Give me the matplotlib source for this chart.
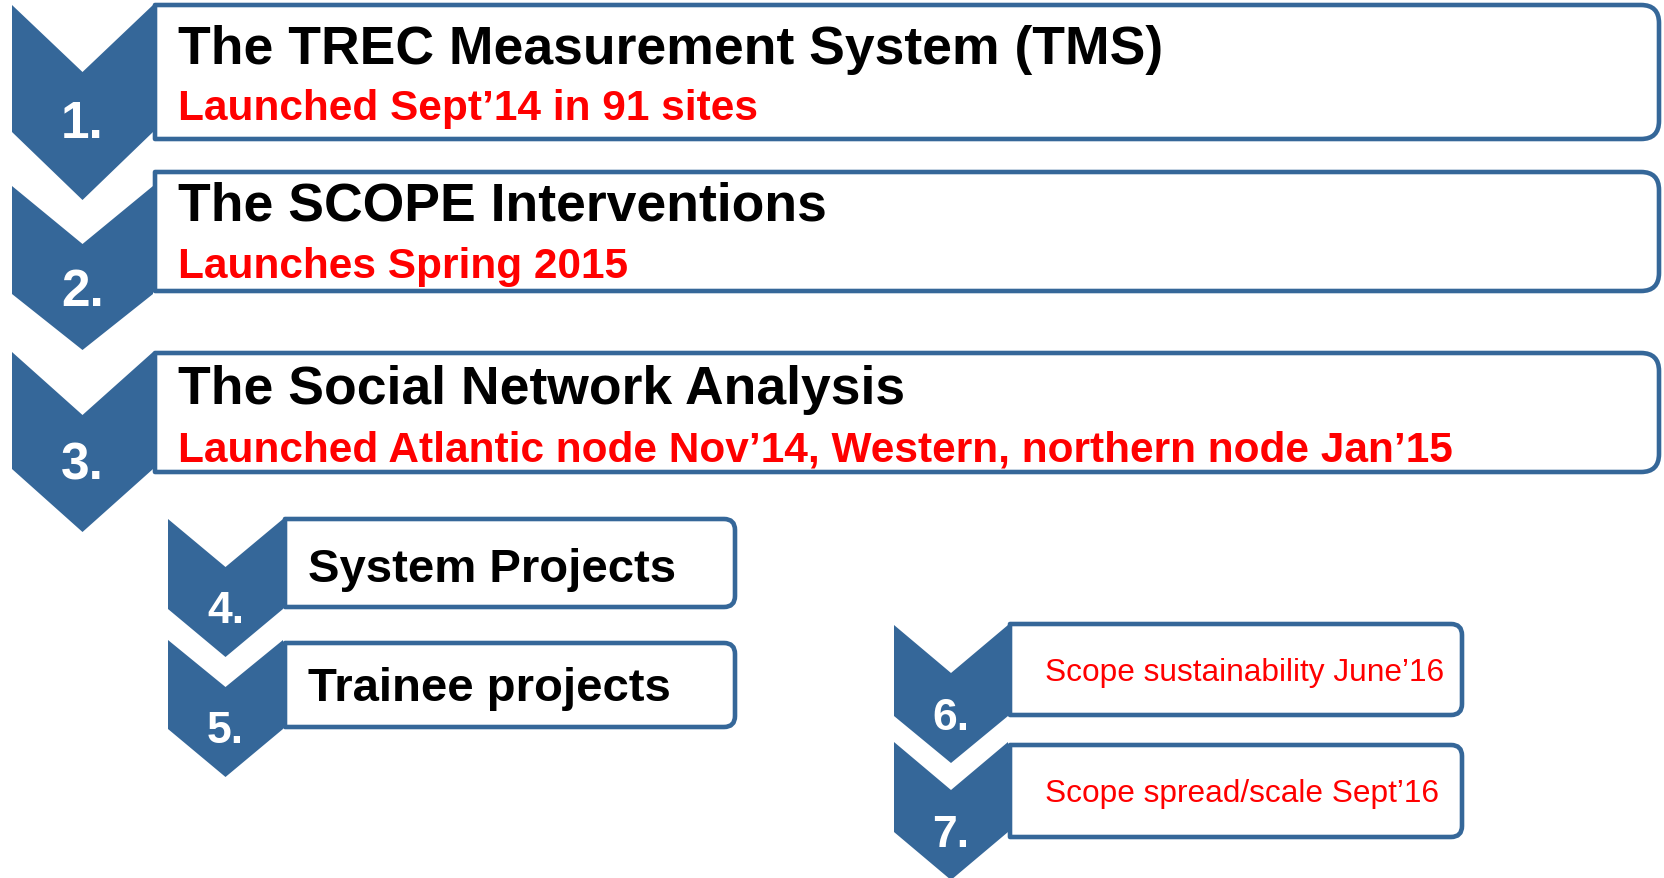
import matplotlib
matplotlib.use("Agg")
import matplotlib.pyplot as plt
from matplotlib.path import Path
from matplotlib.patches import PathPatch, Polygon

# ---- content ----
step_labels = ["1.", "2.", "3.", "4.", "5.", "6.", "7."]
headings = ["The TREC Measurement System (TMS)",
            "The SCOPE Interventions",
            "The Social Network Analysis",
            "System Projects",
            "Trainee projects",
            "", ""]
status_notes = ["Launched Sept\u201914 in 91 sites",
                "Launches Spring 2015",
                "Launched Atlantic node Nov\u201914, Western, northern node Jan\u201915",
                "", "",
                "Scope sustainability June\u201916",
                "Scope spread/scale Sept\u201916"]

# ---- layout (pixels, y downwards) ----
# chevron: x_left, x_right, y_top, y_notch, y_bottom, y_tip
chevrons = [(12, 153, 6, 73, 133, 201),
            (12, 153, 187, 245, 295, 351),
            (12, 153, 353, 416, 470, 533),
            (168, 283, 520, 568, 610, 658),
            (168, 283, 641, 688, 730, 778),
            (894, 1008, 626, 674, 717, 764),
            (894, 1008, 743, 791, 833, 881)]
# box: x0, x1, y0, y1, radius
boxes = [(155, 1659, 6, 140, 18),
         (155, 1659, 173, 292, 18),
         (155, 1659, 354, 473, 18),
         (285, 735, 520, 608, 11),
         (285, 735, 644, 728, 11),
         (1010, 1462, 625, 716, 11),
         (1010, 1462, 746, 838, 11)]
num_baseline = [138, 306, 480, 623, 743, 730, 847]
num_size = [37, 37, 37, 32, 32, 32, 32]
head_pos = [(178, 64), (178, 221), (178, 404), (308, 582), (308, 701), None, None]
note_pos = [(178, 120), (178, 278), (178, 462), None, None, (1045, 681), (1045, 802)]
head_size = [38.5, 38.5, 38.5, 34, 34, 0, 0]
note_size = [30.5, 30.5, 30.5, 0, 0, 22.8, 22.8]
note_weight = ["bold", "bold", "bold", None, None, "normal", "normal"]

BLUE = "#356799"
RED = "#FF0000"
FONT = ["Liberation Sans", "DejaVu Sans"]

fig = plt.figure(figsize=(16.64, 8.79), dpi=100)
ax = fig.add_axes([0, 0, 1, 1])
ax.set_xlim(0, 1664)
ax.set_ylim(879, 0)
ax.axis("off")


def box_path(x0, x1, y0, y1, r):
    verts = [(x0, y0), (x1 - r, y0), (x1, y0), (x1, y0 + r),
             (x1, y1 - r), (x1, y1), (x1 - r, y1), (x0, y1), (x0, y0)]
    codes = [Path.MOVETO, Path.LINETO, Path.CURVE3, Path.CURVE3,
             Path.LINETO, Path.CURVE3, Path.CURVE3, Path.LINETO, Path.CLOSEPOLY]
    return Path(verts, codes)


for i in range(len(step_labels)):
    x0, x1, y0, y1, r = boxes[i]
    ax.add_patch(PathPatch(box_path(x0, x1, y0, y1, r), facecolor="white",
                           edgecolor=BLUE, lw=3.3, zorder=1, joinstyle="round"))
    xl, xr, yt, yn, yb, ytip = chevrons[i]
    xc = (xl + xr) / 2
    ax.add_patch(Polygon([(xl, yt), (xc, yn), (xr, yt), (xr, yb), (xc, ytip), (xl, yb)],
                         closed=True, facecolor=BLUE, edgecolor="none", zorder=2))
    ax.text(xc, num_baseline[i], step_labels[i], color="white", fontsize=num_size[i],
            fontweight="bold", family=FONT, ha="center", va="baseline", zorder=3)
    if head_pos[i] is not None and headings[i]:
        ax.text(head_pos[i][0], head_pos[i][1], headings[i], color="black",
                fontsize=head_size[i], fontweight="bold", family=FONT,
                ha="left", va="baseline", zorder=3)
    if note_pos[i] is not None and status_notes[i]:
        ax.text(note_pos[i][0], note_pos[i][1], status_notes[i], color=RED,
                fontsize=note_size[i], fontweight=note_weight[i], family=FONT,
                ha="left", va="baseline", zorder=3)

fig.savefig("out.png", dpi=100, facecolor="white")
